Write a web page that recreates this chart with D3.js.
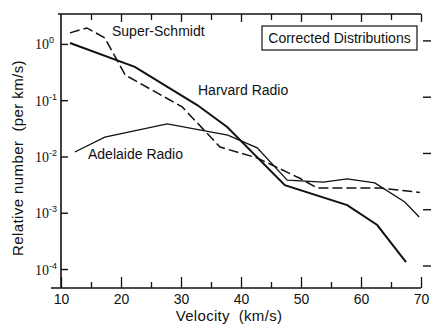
<!DOCTYPE html>
<html>
<head>
<meta charset="utf-8">
<script src="https://cdn.jsdelivr.net/npm/d3@7"></script>
<style>
  html, body { margin: 0; padding: 0; background: #fff; }
  svg { display: block; }
  text { fill: #111; }
</style>
</head>
<body>
<svg id="chart" width="431" height="326"></svg>
<script>
// Meteor velocity distributions (relative number per km/s)
const harvardVel = [11.5, 22.3, 32.7, 37.7, 47.3, 57.7, 62.7, 67.5];
const harvardVal = [1.04, 0.39, 0.082, 0.0334, 0.0031, 0.00137, 0.000605, 0.000133];

const schmidtVel = [11.5, 14.3, 17.3, 20.7, 30.2, 36.5, 42.7, 49.8, 52.7, 63.2, 69.8];
const schmidtVal = [1.57, 1.92, 1.28, 0.28, 0.076, 0.0147, 0.0094, 0.0041, 0.00275, 0.00275, 0.0023];

const adelaideVel = [12.3, 17.3, 27.7, 37.8, 42.7, 47.7, 53.7, 57.7, 62.3, 67.3, 69.7];
const adelaideVal = [0.012, 0.022, 0.038, 0.024, 0.0142, 0.0038, 0.0035, 0.004, 0.0034, 0.00155, 0.00084];

const xTickValues = [10, 15, 20, 25, 30, 35, 40, 45, 50, 55, 60, 65, 70];
const yTickExponents = [0, -1, -2, -3, -4];

const seriesLabels = ["Super-Schmidt", "Harvard Radio", "Adelaide Radio"];
const boxTitle = "Corrected Distributions";

const svg = d3.select("#chart");
const L = 61, R = 421, T = 14, B = 288;

const x = d3.scaleLinear().domain([10, 70]).range([L, R]);
const y = d3.scaleLog().domain([4.6e-5, 3.4]).range([B, T]);

const sans = "'Liberation Sans', Arial, Helvetica, sans-serif";
const serif = "'Liberation Serif', 'Times New Roman', serif";

// frame lines (left, top, bottom)
svg.append("line").attr("x1", L).attr("x2", L).attr("y1", T).attr("y2", B)
  .attr("stroke", "#111").attr("stroke-width", 1.6);
svg.append("line").attr("x1", L - 3).attr("x2", R).attr("y1", T).attr("y2", T)
  .attr("stroke", "#111").attr("stroke-width", 1.6);
svg.append("line").attr("x1", L - 10).attr("x2", R).attr("y1", B).attr("y2", B)
  .attr("stroke", "#111").attr("stroke-width", 1.6);

// bottom axis: ticks pointing up, labels every 10 km/s
const gx = svg.append("g").attr("transform", `translate(0,${B})`)
  .call(d3.axisBottom(x).tickValues(xTickValues).tickSizeOuter(0)
    .tickFormat(d => d % 10 === 0 ? d : ""));
gx.select(".domain").remove();
gx.selectAll(".tick line").attr("y2", d => d % 10 === 0 ? -11 : -6)
  .attr("stroke", "#111").attr("stroke-width", 1.3);
gx.selectAll(".tick text").attr("y", 6).attr("dy", "0.71em")
  .attr("font-family", sans).attr("font-size", 14).attr("fill", "#111");

// top axis: ticks pointing down
const gt = svg.append("g").attr("transform", `translate(0,${T})`)
  .call(d3.axisTop(x).tickValues(xTickValues.filter(v => v > 10)).tickSizeOuter(0).tickFormat(""));
gt.select(".domain").remove();
gt.selectAll(".tick line").attr("y2", d => d % 10 === 0 ? 8 : 6)
  .attr("stroke", "#111").attr("stroke-width", 1.3);

// left axis: decade ticks pointing right, labels 10^n
const yTicks = yTickExponents.map(e => Math.pow(10, e));
const gy = svg.append("g").attr("transform", `translate(${L},0)`)
  .call(d3.axisLeft(y).tickValues(yTicks).tickSizeOuter(0).tickFormat(""));
gy.select(".domain").remove();
gy.selectAll(".tick line").attr("x2", 7).attr("stroke", "#111").attr("stroke-width", 1.4);
gy.selectAll(".tick").each(function(d, i) {
  const e = yTickExponents[i];
  const t = d3.select(this).append("text")
    .attr("x", e === 0 ? -7 : -4).attr("y", 5)
    .attr("text-anchor", "end").attr("fill", "#111");
  t.append("tspan").attr("font-family", serif).attr("font-size", 14).text("10");
  t.append("tspan").attr("font-family", sans).attr("font-size", 9).attr("dy", -6).text(String(e));
});

// right side decade ticks
svg.append("g").selectAll("line").data(yTicks).join("line")
  .attr("x1", R + 2).attr("x2", R + 10)
  .attr("y1", d => y(d) - 3).attr("y2", d => y(d) - 3)
  .attr("stroke", "#111").attr("stroke-width", 1.4);

// series lines
const line = d3.line().x(d => x(d[0])).y(d => y(d[1]));
const zip = (a, b) => a.map((v, i) => [v, b[i]]);

svg.append("path").datum(zip(adelaideVel, adelaideVal)).attr("d", line)
  .attr("fill", "none").attr("stroke", "#111").attr("stroke-width", 1.3);
svg.append("path").datum(zip(schmidtVel, schmidtVal)).attr("d", line)
  .attr("fill", "none").attr("stroke", "#111").attr("stroke-width", 1.5)
  .attr("stroke-dasharray", "10,4");
svg.append("path").datum(zip(harvardVel, harvardVal)).attr("d", line)
  .attr("fill", "none").attr("stroke", "#111").attr("stroke-width", 2);

// series labels
const labelPos = [[112, 36], [198, 95], [88, 159]];
svg.append("g").selectAll("text").data(seriesLabels).join("text")
  .attr("x", (d, i) => labelPos[i][0]).attr("y", (d, i) => labelPos[i][1])
  .attr("font-family", sans).attr("font-size", 14).text(d => d);

// title box
svg.append("rect").attr("x", 262).attr("y", 26).attr("width", 155).attr("height", 24)
  .attr("fill", "#fff").attr("stroke", "#111").attr("stroke-width", 1.2);
svg.append("text").attr("x", 339.5).attr("y", 43).attr("text-anchor", "middle")
  .attr("font-family", sans).attr("font-size", 14).text(boxTitle);

// axis titles
svg.append("text").attr("x", 229).attr("y", 321).attr("text-anchor", "middle")
  .attr("font-family", sans).attr("font-size", 15).attr("letter-spacing", 0.3)
  .style("white-space", "pre").text("Velocity  (km/s)");
svg.append("text").attr("transform", "translate(23,158) rotate(-90)")
  .attr("text-anchor", "middle").attr("font-family", sans).attr("font-size", 15)
  .attr("letter-spacing", 0.4)
  .style("white-space", "pre").text("Relative number  (per km/s)");
</script>
</body>
</html>
